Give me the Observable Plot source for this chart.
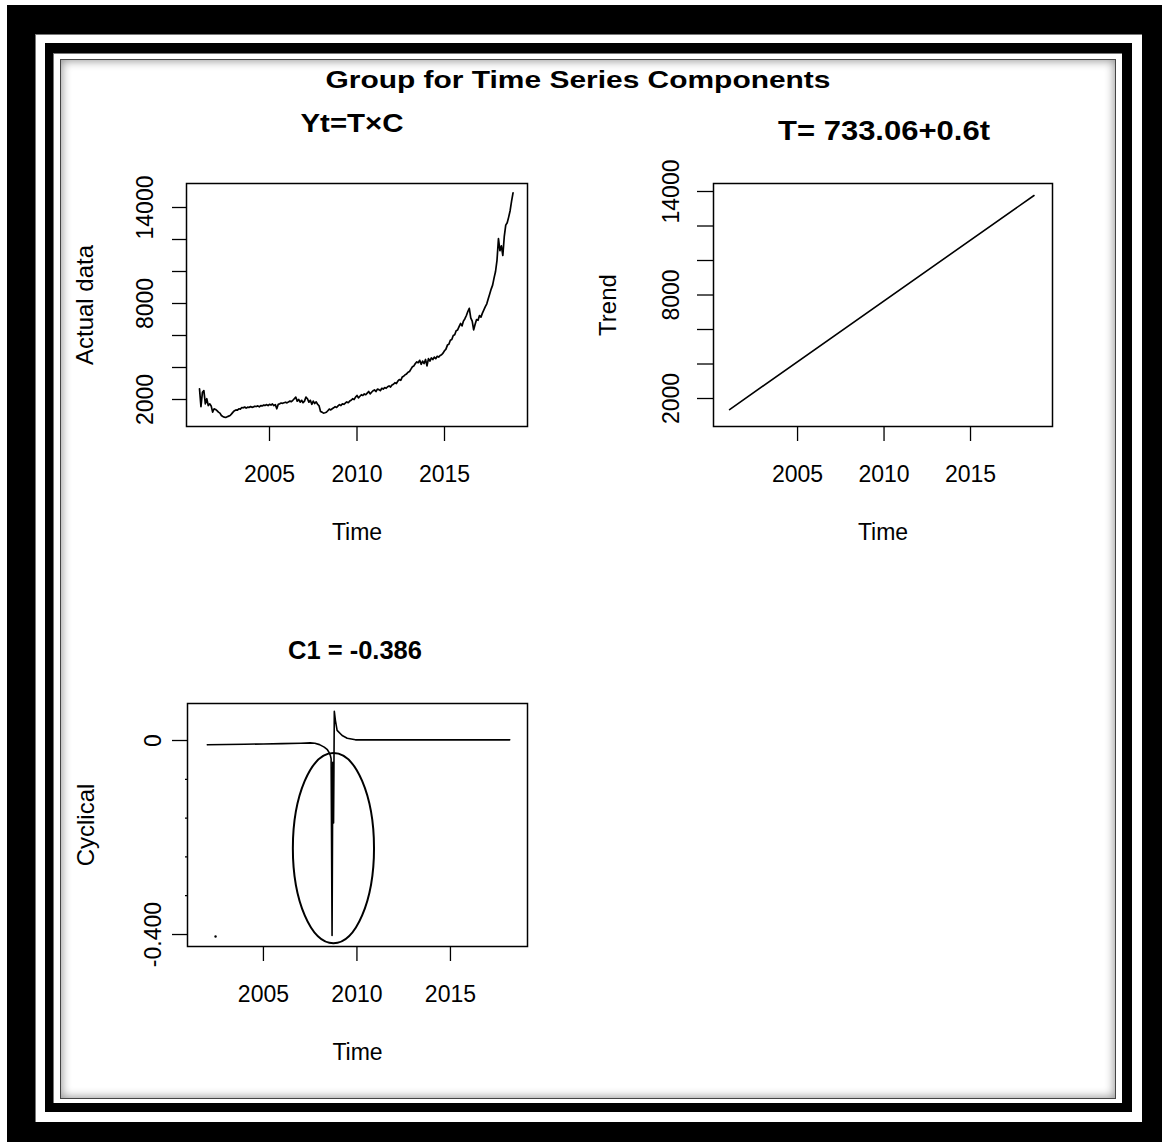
<!DOCTYPE html>
<html><head><meta charset="utf-8">
<script src="https://cdn.jsdelivr.net/npm/d3@7"></script>
<script src="https://cdn.jsdelivr.net/npm/@observablehq/plot@0.6"></script>
<style>
html,body{margin:0;padding:0;background:#fff;}
#page{position:relative;width:1162px;height:1142px;overflow:hidden;background:#fff;font-family:"Liberation Sans",Arial,sans-serif;}
.band{position:absolute;box-sizing:border-box;}
.plotbox{position:absolute;}
</style></head><body><div id="page"></div>
<script>
// ---------- DATA ----------
const mainTitle = "Group for Time Series Components";
const titleActual = "Yt=T×C";
const titleTrend = "T= 733.06+0.6t";
const titleCyc = "C1 = -0.386";
const labelTime = "Time";
const labelActual = "Actual data";
const labelTrend = "Trend";
const labelCyc = "Cyclical";

// Actual data: monthly, Jan 2001 .. Dec 2018
const actualStartYear = 2001;
const actualValues = [
  2670, 1550, 2450, 2560, 1730, 2050, 1620, 1730, 1600, 1210, 1420, 1380,
  1300, 1210, 1150, 1000, 940, 900, 880, 920, 960, 1000, 1100, 1210,
  1300, 1350, 1330, 1420, 1400, 1500, 1480, 1530, 1460, 1520, 1500, 1560,
  1510, 1540, 1580, 1560, 1600, 1540, 1620, 1600, 1650, 1630, 1680, 1620,
  1700, 1650, 1720, 1620, 1680, 1420, 1700, 1730, 1780, 1760, 1800, 1830,
  1790, 1850, 1900, 1870, 1950, 2050, 2150, 1900, 2000, 1830, 1950, 1800,
  1900, 2150, 2050, 1830, 1950, 1700, 1900, 1750, 1850, 1700, 1600, 1250,
  1210, 1150, 1170, 1200, 1300, 1400, 1350, 1420, 1480, 1550, 1500, 1600,
  1680, 1620, 1730, 1700, 1780, 1850, 1800, 1900, 1950, 2050, 2000, 2150,
  2250, 2100, 2200, 2300, 2250, 2350, 2300, 2400, 2500, 2350, 2450, 2550,
  2600, 2500, 2650, 2620, 2550, 2700, 2650, 2750, 2700, 2800, 2850, 2780,
  2900, 2950, 3050, 3000, 3150, 3250, 3200, 3400, 3450, 3550, 3600, 3700,
  3750, 3900, 4050, 4100, 4250, 4350, 4300, 4450, 4200, 4400, 4250, 4500,
  4100, 4550, 4400, 4600, 4500, 4650, 4550, 4700, 4650, 4750, 4800, 4900,
  5050, 5150, 5400, 5450, 5700, 5750, 6000, 6050, 6300, 6350, 6550, 6750,
  6600, 6900, 7050, 7250, 7500, 7700, 7100, 6900, 6350, 6700, 7000, 6950,
  7250, 7150, 7400, 7600, 7800, 7980, 8300, 8600, 8900, 9150, 9600, 10000,
  10700, 12050, 11300, 11600, 11000, 12200, 12900, 13050, 13400, 13800, 14400, 14920
];

// Trend line end points
const trendYears = [2001.07, 2018.67];
const trendValues = [1360, 13770];

// Cyclical component
const cycYears = [2002.0, 2003.0, 2004.0, 2005.0, 2006.0, 2007.0, 2007.5, 2007.75, 2008.0, 2008.25, 2008.42, 2008.5, 2008.58, 2008.62, 2008.67, 2008.71, 2008.75, 2008.79, 2008.85, 2008.94, 2009.21, 2009.48, 2009.92, 2011, 2013, 2015, 2017, 2018.17];
const cycValues = [-0.0089, -0.0083, -0.0077, -0.0071, -0.0064, -0.0055, -0.0048, -0.0058, -0.0085, -0.0137, -0.019, -0.024, -0.031, -0.038, -0.402, -0.045, -0.17, 0.060, 0.041, 0.021, 0.0103, 0.0048, 0.0014, 0.0013, 0.0013, 0.0013, 0.0013, 0.0014];
const cycStrayYears = [2002.44];
const cycStrayValues = [-0.404];
// highlight ellipse (data units)
const ellipseCenterYear = 2008.77, ellipseCenterValue = -0.223, ellipseRadiusYears = 2.17, ellipseRadiusValue = 0.196;

// Ticks
const yearTicks = [2005, 2010, 2015];
const levelTicks = [2000, 4000, 6000, 8000, 10000, 12000, 14000];
const levelTickLabels = [2000, 8000, 14000];
const cycTicks = [0, -0.4];
const cycTickLabels = ["0", "-0.400"];
const cycMinorTicks = [-0.08, -0.16, -0.24, -0.32];

// ---------- BUILD ----------
const actualData = actualValues.map((v, i) => ({year: actualStartYear + i / 12, value: v}));
const trendData = trendYears.map((t, i) => ({year: t, value: trendValues[i]}));
const cycData = cycYears.map((t, i) => ({year: t, value: cycValues[i]}));
const cycStray = cycStrayYears.map((t, i) => ({year: t, value: cycStrayValues[i]}));

const page = document.getElementById("page");
function band(l, t, w, h, css) {
  const d = document.createElement("div");
  d.className = "band";
  Object.assign(d.style, {left: l + "px", top: t + "px", width: w + "px", height: h + "px"}, css);
  page.appendChild(d);
}
band(7, 5, 1155, 1137, {background: "#000"});
band(35, 34, 1107, 1088, {background: "#fff", borderTop: "1px solid #777", borderLeft: "1px solid #777"});
band(45, 43, 1087, 1069, {background: "#000"});
band(53, 53, 1069, 1050, {background: "#fff", borderTop: "1px solid #777", borderLeft: "1px solid #777"});
band(60, 59, 1056, 1040, {background: "#fff", border: "1px solid #444", boxShadow: "inset 0 0 10px 1px rgba(0,0,0,0.42)"});

const FONT = '"Liberation Sans", Arial, sans-serif';
function place(svg, left, top) {
  const wrap = document.createElement("div");
  wrap.className = "plotbox";
  wrap.style.left = left + "px";
  wrap.style.top = top + "px";
  wrap.appendChild(svg);
  page.appendChild(wrap);
}
const baseStyle = {fontFamily: FONT, fontSize: "23px", color: "black", background: "transparent", overflow: "visible"};
const timeLabel = () => Plot.text([labelTime], {frameAnchor: "bottom", textAnchor: "middle", dy: 113, lineAnchor: "bottom"});
const yLabel = (t, dx) => Plot.text([t], {frameAnchor: "left", textAnchor: "middle", rotate: -90, dx, lineAnchor: "bottom", fontSize: 24});

// Top-left: actual data
place(Plot.plot({
  width: 490, height: 400,
  marginLeft: 126, marginRight: 23, marginTop: 23, marginBottom: 134,
  style: baseStyle,
  x: {domain: [2000.257, 2019.743], label: null},
  y: {domain: [312.5, 15500], label: null},
  marks: [
    Plot.frame({stroke: "black", strokeWidth: 1.5}),
    Plot.axisX({ticks: yearTicks, tickSize: 15, tickPadding: 24, tickFormat: d => String(d), strokeWidth: 1.3}),
    Plot.axisY({ticks: levelTicks, tickSize: 14, tickPadding: 20, tickRotate: -90, tickFormat: d => levelTickLabels.includes(d) ? String(d) : "", strokeWidth: 1.3}),
    Plot.line(actualData, {x: "year", y: "value", stroke: "black", strokeWidth: 1.7}),
    timeLabel(),
    yLabel(labelActual, -94)
  ]
}), 60, 160);

// Top-right: trend
place(Plot.plot({
  width: 490, height: 400,
  marginLeft: 123, marginRight: 28, marginTop: 23, marginBottom: 134,
  style: baseStyle,
  x: {domain: [2000.14, 2019.74], label: null},
  y: {domain: [377, 14464], label: null},
  marks: [
    Plot.frame({stroke: "black", strokeWidth: 1.5}),
    Plot.axisX({ticks: yearTicks, tickSize: 15, tickPadding: 24, tickFormat: d => String(d), strokeWidth: 1.3}),
    Plot.axisY({ticks: levelTicks, tickSize: 16, tickPadding: 19, tickRotate: -90, tickFormat: d => levelTickLabels.includes(d) ? String(d) : "", strokeWidth: 1.3}),
    Plot.line(trendData, {x: "year", y: "value", stroke: "black", strokeWidth: 1.6}),
    timeLabel(),
    yLabel(labelTrend, -98)
  ]
}), 590, 160);

// Bottom-left: cyclical
place(Plot.plot({
  width: 490, height: 400,
  marginLeft: 127, marginRight: 23, marginTop: 23, marginBottom: 134,
  style: baseStyle,
  x: {domain: [2000.94, 2019.12], label: null},
  y: {domain: [-0.4247, 0.0763], label: null},
  marks: [
    Plot.frame({stroke: "black", strokeWidth: 1.5}),
    Plot.axisX({ticks: yearTicks, tickSize: 15, tickPadding: 24, tickFormat: d => String(d), strokeWidth: 1.3}),
    Plot.axisY({ticks: cycTicks, tickSize: 15, tickPadding: 12, tickRotate: -90, tickFormat: d => cycTickLabels[cycTicks.indexOf(d)], strokeWidth: 1.3}),
    Plot.axisY({ticks: cycMinorTicks, tickSize: 2, tickFormat: () => "", strokeWidth: 1.3}),
    Plot.line(cycData, {x: "year", y: "value", stroke: "black", strokeWidth: 1.6}),
    Plot.dot(cycStray, {x: "year", y: "value", r: 1.2, fill: "black", stroke: "none"}),
    (index, scales) => {
      const {x, y} = scales;
      const cx = x(ellipseCenterYear), cy = y(ellipseCenterValue);
      const rx = Math.abs(x(ellipseCenterYear + ellipseRadiusYears) - cx);
      const ry = Math.abs(y(ellipseCenterValue - ellipseRadiusValue) - cy);
      return d3.create("svg:ellipse")
        .attr("cx", cx).attr("cy", cy).attr("rx", rx).attr("ry", ry)
        .attr("fill", "none").attr("stroke", "black").attr("stroke-width", 2)
        .node();
    },
    timeLabel(),
    yLabel(labelCyc, -94)
  ]
}), 60, 680);

// Titles overlay
const overlay = d3.create("svg")
  .attr("width", 1162).attr("height", 1142)
  .style("position", "absolute").style("left", "0px").style("top", "0px")
  .style("pointer-events", "none")
  .attr("font-family", FONT).attr("font-weight", "bold").attr("text-anchor", "middle");
const titleSpecs = [
  {text: mainTitle, x: 578, y: 88, size: 23, len: 505},
  {text: titleActual, x: 352, y: 132, size: 26, len: 103},
  {text: titleTrend, x: 884, y: 140, size: 28, len: 212},
  {text: titleCyc, x: 355, y: 659, size: 26, len: 134}
];
for (const s of titleSpecs) {
  overlay.append("text").attr("x", s.x).attr("y", s.y).attr("font-size", s.size)
    .attr("textLength", s.len).attr("lengthAdjust", "spacingAndGlyphs").text(s.text);
}
page.appendChild(overlay.node());
</script>
</body></html>
